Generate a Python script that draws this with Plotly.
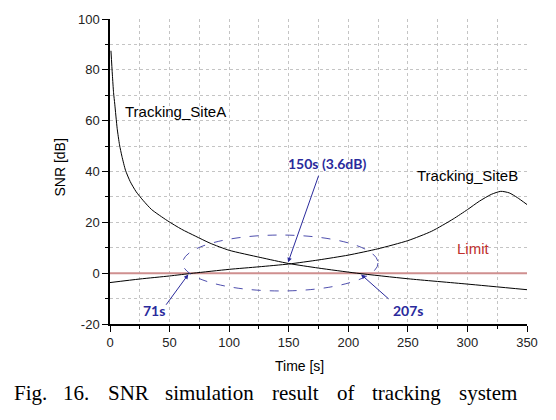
import plotly.graph_objects as go

# ---- data ----
t_site_a = [0.8, 2, 3, 4, 6, 8, 10, 13, 17, 22, 28, 35, 48, 60, 72, 84, 100, 126, 150, 175, 207, 250, 300, 350]
snr_site_a = [87.5, 78, 71, 66.5, 57, 50.5, 46, 40.5, 36, 32, 28.5, 25, 20.7, 17.3, 14.5, 11.8, 9, 6.2, 3.8, 2.0, 0, -2.2, -4.3, -6.5]

t_site_b = [0, 25, 50, 70, 100, 125, 150, 175, 200, 225, 250, 270, 288, 300, 310, 320, 328, 335, 342, 350]
snr_site_b = [-3.7, -2.3, -1.1, 0, 1.5, 2.5, 3.6, 5.2, 7.1, 9.6, 12.8, 16.5, 21.3, 25, 28.3, 31, 32.2, 31.6, 29.7, 27]

t_limit = [0, 350]
snr_limit = [0, 0]

x_ticks = [0, 50, 100, 150, 200, 250, 300, 350]
y_ticks = [-20, 0, 20, 40, 60, 80, 100]
y_tick_text = ["-20", "0", "20", "40", "60", "80", "100"]

caption_words = ["Fig.", "16.", "SNR", "simulation", "result", "of", "tracking", "system"]

# ---- figure ----
W, H = 556, 420
L, R, T, B = 110, 29, 16, 96
pw, ph = W - L - R, H - T - B

def px(x):
    return (x - L) / pw

def py(y):
    return (H - B - y) / ph

font_main = "Arial, Liberation Sans, sans-serif"
blue = "#2a2a9c"

fig = go.Figure()
fig.add_trace(go.Scatter(x=t_limit, y=snr_limit, mode="lines",
                         line=dict(color="#cf8f8f", width=2), hoverinfo="skip"))
fig.add_trace(go.Scatter(x=t_site_a, y=snr_site_a, mode="lines",
                         line=dict(color="black", width=1, shape="spline", smoothing=0.6)))
fig.add_trace(go.Scatter(x=t_site_b, y=snr_site_b, mode="lines",
                         line=dict(color="black", width=1, shape="spline", smoothing=0.6)))

# dashed ellipse
fig.add_shape(type="circle", xref="x", yref="y", x0=61, x1=225, y0=-7, y1=15,
              line=dict(color="#4f4fae", width=1, dash="dash"))

grid = dict(showgrid=True, gridcolor="#c4c4c4", griddash="dot", gridwidth=1)

fig.update_xaxes(range=[0, 350], tickvals=x_ticks, ticks="outside", ticklen=6,
                 tickwidth=1, tickcolor="black", showline=True, linecolor="black",
                 linewidth=1.5, zeroline=False,
                 tickfont=dict(family=font_main, size=13, color="#222"),
                 minor=dict(dtick=25, tick0=0, ticks="outside", ticklen=3.5,
                            tickcolor="black", **grid),
                 **grid)
fig.update_yaxes(range=[-20, 100], tickvals=y_ticks, ticktext=y_tick_text,
                 ticks="outside", ticklen=6,
                 tickwidth=1, tickcolor="black", showline=True, linecolor="black",
                 linewidth=1.5, zeroline=False,
                 tickfont=dict(family=font_main, size=13, color="#222"),
                 minor=dict(dtick=10, tick0=0, ticks="outside", ticklen=3.5,
                            tickcolor="black", **grid),
                 **grid)

ann = []
# curve labels
ann.append(dict(x=11, y=63.8, xref="x", yref="y", text="Tracking_SiteA", showarrow=False,
                xanchor="left", yanchor="middle", font=dict(family=font_main, size=15, color="black")))
ann.append(dict(x=256, y=38.6, xref="x", yref="y", text="Tracking_SiteB", showarrow=False,
                xanchor="left", yanchor="middle", font=dict(family=font_main, size=15, color="black")))
ann.append(dict(x=305, y=9.7, xref="x", yref="y", text="Limit", showarrow=False,
                xanchor="center", yanchor="middle", font=dict(family=font_main, size=15, color="#c0302e")))

# point annotations
bold = dict(family="Lato, sans-serif", size=14, color=blue, weight="bold")
ann.append(dict(x=182, y=43, xref="x", yref="y", text="<b>150s (3.6dB)</b>", showarrow=False,
                font=bold))
ann.append(dict(x=37, y=-14.5, xref="x", yref="y", text="<b>71s</b>", showarrow=False, font=bold))
ann.append(dict(x=250.6, y=-14.5, xref="x", yref="y", text="<b>207s</b>", showarrow=False, font=bold))

for tip, tail in [((149.5, 4.3), (175.5, 38.9)),
                  ((65.7, -0.5), (46.2, -13)),
                  ((210.7, -0.5), (235, -10.6))]:
    ann.append(dict(x=tip[0], y=tip[1], ax=tail[0], ay=tail[1], xref="x", yref="y",
                    axref="x", ayref="y", text="", showarrow=True, arrowhead=2,
                    arrowsize=0.9, arrowwidth=1, arrowcolor=blue, standoff=0, startstandoff=0))

# axis titles
ann.append(dict(x=px(50), y=py(166), xref="paper", yref="paper", text="SNR [dB]", showarrow=False,
                textangle=-90, font=dict(family=font_main, size=14, color="black")))
ann.append(dict(x=px(299), y=py(377), xref="paper", yref="paper", text="Time [s]", showarrow=False,
                font=dict(family=font_main, size=14, color="black")))

# caption, justified word by word
cap_x = [12, 61, 106, 163, 270, 335, 370, 457]
for w, x in zip(caption_words, cap_x):
    ann.append(dict(x=px(x), y=py(394), xref="paper", yref="paper", text=w, showarrow=False,
                    xanchor="left", yanchor="middle",
                    font=dict(family="Times New Roman, Liberation Serif, serif", size=21, color="black")))

fig.update_layout(width=W, height=H, margin=dict(l=L, r=R, t=T, b=B),
                  paper_bgcolor="white", plot_bgcolor="white", showlegend=False,
                  annotations=ann)

fig.write_html("out.html", config={"displayModeBar": False},
               post_script="document.body.style.margin='0';document.body.style.padding='0';")
